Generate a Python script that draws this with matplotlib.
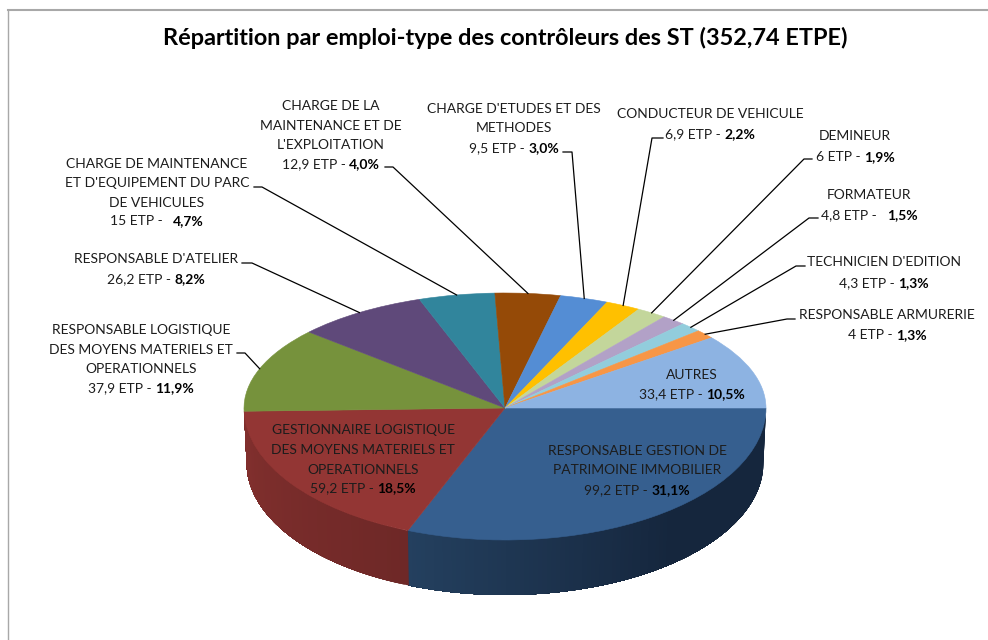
import numpy as np
import matplotlib
matplotlib.use("Agg")
import matplotlib.pyplot as plt
from matplotlib.lines import Line2D
from matplotlib.colors import to_rgb
from matplotlib.transforms import IdentityTransform

# ---------- data ----------
title = "Répartition par emploi-type des contrôleurs des ST (352,74 ETPE)"
names = [
    ["RESPONSABLE GESTION DE", "PATRIMOINE IMMOBILIER"],
    ["GESTIONNAIRE LOGISTIQUE", "DES MOYENS MATERIELS ET", "OPERATIONNELS"],
    ["RESPONSABLE LOGISTIQUE", "DES MOYENS MATERIELS ET", "OPERATIONNELS"],
    ["RESPONSABLE D'ATELIER"],
    ["CHARGE DE MAINTENANCE", "ET D'EQUIPEMENT DU PARC", "DE VEHICULES"],
    ["CHARGE DE LA", "MAINTENANCE ET DE", "L'EXPLOITATION"],
    ["CHARGE D'ETUDES ET DES", "METHODES"],
    ["CONDUCTEUR DE VEHICULE"],
    ["DEMINEUR"],
    ["FORMATEUR"],
    ["TECHNICIEN D'EDITION"],
    ["RESPONSABLE ARMURERIE"],
    ["AUTRES"],
]
etp = [99.2, 59.2, 37.9, 26.2, 15, 12.9, 9.5, 6.9, 6, 4.8, 4.3, 4, 33.4]
etp_labels = ["99,2 ETP - ", "59,2 ETP - ", "37,9 ETP - ", "26,2 ETP - ", "15 ETP -   ",
              "12,9 ETP - ", "9,5 ETP - ", "6,9 ETP - ", "6 ETP - ", "4,8 ETP -   ",
              "4,3 ETP - ", "4 ETP - ", "33,4 ETP - "]
pct_labels = ["31,1%", "18,5%", "11,9%", "8,2%", "4,7%", "4,0%", "3,0%",
              "2,2%", "1,9%", "1,5%", "1,3%", "1,3%", "10,5%"]

# ---------- style ----------
colors = ["#365F8F", "#933634", "#76923C", "#5F497A", "#31859C", "#954A07", "#548DD4",
          "#FFC000", "#C3D69B", "#B2A1C7", "#92CDDC", "#F79646", "#8DB3E2"]
# side shading per visible slice: colour at its low-angle end and high-angle end, flat share
side_shades = {0: ("#15263D", "#24405F", 0.45), 1: ("#6E2827", "#83302E", 0.0)}

# centre x and line centres y of each label, in image pixels
label_cx = [637, 363, 141, 156, 157, 331, 514, 710, 855, 869, 884, 887, 692]
label_ys = [[451, 470, 490], [430, 450, 470, 488], [330, 350, 369, 388], [259, 279],
            [164, 183, 203, 221], [106, 126, 145, 164], [109, 128, 148], [114, 134],
            [136, 157], [195, 215], [262, 283], [315, 335], [375, 394]]
# leader elbows (text end, knee) in image pixels
leaders = {2: [(237, 353), (245, 353)], 3: [(242, 263), (252, 263)], 4: [(254, 187), (262, 187)],
           5: [(385, 167), (393, 167)], 6: [(563, 152), (572, 152)], 7: [(663, 138), (652, 138)],
           8: [(812, 159), (804, 159)], 9: [(818, 218), (809, 218)], 10: [(805, 266), (796, 266)],
           11: [(795, 319), (787, 319)]}

W, H = 988, 640
CX, CY, RX, RY_UP, RY_DOWN, DEPTH = 505, 408, 261, 115, 132, 55
FONT = "Lato"
FS = 10.0
TXT = "#1c1c1c"

fig = plt.figure(figsize=(W / 100, H / 100), dpi=100, facecolor="white")
ax = fig.add_axes([0, 0, 1, 1])

wedges, _ = ax.pie(etp, colors=colors, startangle=0, counterclock=False, radius=1,
                   wedgeprops=dict(linewidth=0.4))
for w in wedges:
    w.set_edgecolor(w.get_facecolor())
    w.set_zorder(3)


def fwd(y):
    y = np.asarray(y, dtype=float)
    return np.where(y > 0, y * RY_UP, y * RY_DOWN)


def inv(v):
    v = np.asarray(v, dtype=float)
    return np.where(v > 0, v / RY_UP, v / RY_DOWN)


ax.set_aspect("auto")
ax.set_yscale("function", functions=(fwd, inv))
ax.set_xlim(-CX / RX, (W - CX) / RX)
ax.set_ylim(-(H - CY) / RY_DOWN, CY / RY_UP)
ax.set_xticks([])
ax.set_yticks([])
ax.minorticks_off()
ax.set_frame_on(False)

# cumulative angles, clockwise from the right
cum = np.concatenate([[0], np.cumsum(etp)]) / np.sum(etp) * 360.0

# side wall: painted as overlapping bands, each running to the end of its slice, so no seams
dy = DEPTH / RY_DOWN
rx_low = 0.99
for i, (c_lo, c_hi, flat) in side_shades.items():
    a0, a1 = cum[i], cum[i + 1]
    n = max(int(a1 - a0), 2)
    edges = np.linspace(a0, a1, n + 1)
    c0, c1 = np.array(to_rgb(c_lo)), np.array(to_rgb(c_hi))
    for k in range(n):
        t = max(0.0, ((k + 0.5) / n - flat) / (1 - flat))
        col = tuple(c0 + (c1 - c0) * t)
        th = np.radians(np.linspace(edges[k], a1, max(n - k + 1, 2)))
        xs = np.cos(th)
        ys = -np.sin(th)
        px = np.r_[xs, rx_low * xs[::-1]]
        py = np.r_[ys, ys[::-1] - dy]
        ax.fill(px, py, color=col, lw=0, zorder=2)

# frame
fig.add_artist(Line2D([8 / W, 8 / W], [0, 1 - 10 / H], color="#A8A8A8", lw=1.0,
                      transform=fig.transFigure))
fig.add_artist(Line2D([8 / W, 1], [1 - 10 / H, 1 - 10 / H], color="#A8A8A8", lw=1.5,
                      transform=fig.transFigure))

# title
fig.text(505 / W, 1 - 38 / H, title, ha="center", va="center", fontsize=16.9,
         fontweight="bold", family=FONT, color="black")

renderer = fig.canvas.get_renderer()

# labels
for i in range(len(etp)):
    ys = label_ys[i]
    for line, y in zip(names[i], ys):
        fig.text(label_cx[i] / W, 1 - y / H, line, ha="center", va="center",
                 fontsize=FS, family=FONT, color=TXT)
    y = ys[-1]
    t1 = fig.text(0, 1 - y / H, etp_labels[i].replace(" ", "\u00a0"), ha="left", va="center",
                  fontsize=FS, family=FONT, color=TXT)
    t2 = fig.text(0, 1 - y / H, pct_labels[i], ha="left", va="center",
                  fontsize=FS, family=FONT, fontweight="bold", color="black")
    w1 = t1.get_window_extent(renderer).width
    w2 = t2.get_window_extent(renderer).width
    x0 = label_cx[i] - (w1 + w2) / 2
    t1.set_x(x0 / W)
    t2.set_x((x0 + w1) / W)

# leaders: from the label to the rim at the middle of the slice
for i, pts in leaders.items():
    mid = np.radians((cum[i] + cum[i + 1]) / 2)
    rim = ax.transData.transform((np.cos(mid), -np.sin(mid)))
    xs = [p[0] for p in pts] + [rim[0]]
    ys = [H - p[1] for p in pts] + [rim[1]]
    fig.add_artist(Line2D(xs, ys, color="black", lw=0.9, transform=IdentityTransform()))

fig.savefig("out.png", dpi=100, facecolor="white")
